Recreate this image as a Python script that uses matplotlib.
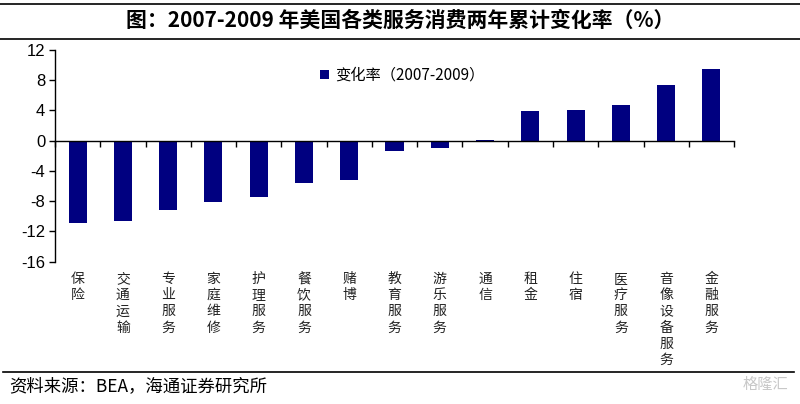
import matplotlib.pyplot as plt
import matplotlib.transforms as mtransforms
import numpy as np

plt.rcParams['font.family'] = ['Noto Sans CJK SC', 'DejaVu Sans']

categories = ["保险", "交通运输", "专业服务", "家庭维修", "护理服务", "餐饮服务", "赌博",
              "教育服务", "游乐服务", "通信", "租金", "住宿", "医疗服务", "音像设备服务", "金融服务"]
values = [-10.9, -10.6, -9.2, -8.1, -7.5, -5.6, -5.2, -1.35, -0.9, 0.1, 3.9, 4.1, 4.7, 7.4, 9.45]
yticks = [-16, -12, -8, -4, 0, 4, 8, 12]
series_name = "变化率（2007-2009）"

fig = plt.figure(figsize=(8, 4.04), dpi=100)
ax = fig.add_axes([0.06875, 0.3522, 0.8488, 0.524])

x = np.arange(len(categories))
ax.bar(x, values, width=0.4, color="#000080", label=series_name, zorder=2)

ax.set_xlim(-0.5, len(categories) - 0.5)
ax.set_ylim(-16, 12)
ax.set_yticks(yticks)
ax.set_yticklabels([str(v) for v in yticks], fontsize=12, family=['Liberation Sans', 'DejaVu Sans'])
ax.tick_params(axis='y', direction='out', length=4, width=1, pad=3)

ax.spines['top'].set_visible(False)
ax.spines['right'].set_visible(False)
ax.spines['bottom'].set_position(('data', 0))
ax.spines['left'].set_linewidth(1)
ax.spines['bottom'].set_linewidth(1)
ax.set_xticks(np.arange(-0.5, len(categories), 1.0))
ax.set_xticklabels([])
ax.tick_params(axis='x', direction='out', length=4, width=1)

trans = mtransforms.blended_transform_factory(ax.transData, fig.transFigure)
for i, name in enumerate(categories):
    ax.text(i, 1 - 272 / 404, "\n".join(name), transform=trans, ha='center', va='top',
            fontsize=10, linespacing=1.2, color="#222222")

leg = ax.legend(loc='upper left', bbox_to_anchor=(0.37, 0.985), frameon=False,
                handlelength=0.6, handleheight=0.6, handletextpad=0.4,
                prop={'family': ['Noto Sans CJK SC', 'DejaVu Sans'], 'size': 11})

fig.text(0.5, 1 - 20 / 404, "图：2007-2009 年美国各类服务消费两年累计变化率（%）",
         ha='center', va='center', fontsize=15, fontweight='bold')
fig.add_artist(plt.Line2D([0, 1], [1 - 4 / 404, 1 - 4 / 404], color='black', lw=1.2))
fig.add_artist(plt.Line2D([0, 1], [1 - 39 / 404, 1 - 39 / 404], color='black', lw=1.2))
fig.add_artist(plt.Line2D([0.004, 0.992], [1 - 372 / 404, 1 - 372 / 404], color='black', lw=1.2))
fig.text(0.012, 1 - 386 / 404, "资料来源：BEA，海通证券研究所", ha='left', va='center', fontsize=12.5)
fig.text(0.985, 1 - 384 / 404, "格隆汇", ha='right', va='center', fontsize=11, color="#c8c8c8")

fig.savefig("out.png", dpi=100)
